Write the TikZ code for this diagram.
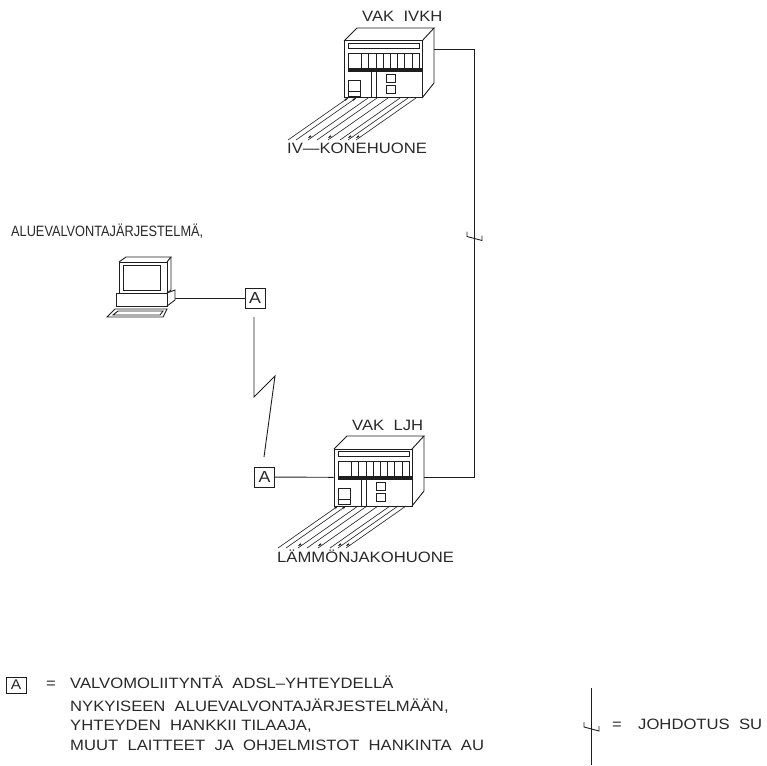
\documentclass[tikz,border=0pt]{standalone}
\usepackage{fontspec}
\setmainfont[FakeStretch=1.11]{Liberation Sans}
\newfontfamily\kapeafont[FakeStretch=0.85]{Liberation Sans}
\usepackage{xcolor}
\usetikzlibrary{arrows.meta, positioning, calc}
\definecolor{cadline}{RGB}{30,30,30}
\definecolor{cadtext}{RGB}{40,40,40}
\tikzset{
  cadlabel/.style={inner sep=0pt, anchor=base west, text=cadtext, font=\fontsize{15}{15}\selectfont},
  liitos/.style={rectangle, draw=cadline, fill=white, minimum width=20pt, minimum height=20pt,
                 inner sep=0pt, text=cadtext, font=\fontsize{16}{16}\selectfont},
  johto/.style={draw=cadline, line width=0.9pt},
  kaapeli/.style={draw=cadline, line width=0.6pt},
  vakbox/.pic={
    \node[draw=cadline, line width=1pt, minimum width=78pt, minimum height=57pt, inner sep=0pt] (-front) at (39,28.5) {};
    \coordinate (-sideup) at (90,8);
    \coordinate (-sidemid) at (90,28);
    \draw[johto] (0,0) -- (13,-13) -- (90,-13) -- (78,0);
    \draw[johto] (90,-13) -- (90,42) -- (78,57);
    \draw[johto] (4.5,2.5) rectangle (75,7.5);
    \draw[johto] (4.5,12) rectangle (75,27);
    \foreach \xa in {17.5,24.5,32,39,46,53,60,68}
      \draw[johto] (\xa,12) -- (\xa,27);
    \draw[johto, fill=cadline] (4.5,27) rectangle (77,30);
    \draw[johto] (27,30) -- (27,57) (32,30) -- (32,57);
    \draw[johto] (4.5,39) rectangle (16,50.7);
    \draw[johto] (4.5,50.7) rectangle (16,55.7);
    \draw[johto] (42,33.3) rectangle (51,41.7);
    \draw[johto] (42,44.7) rectangle (51,52.3);
    %% cables
    \foreach \xa/\xb in {4/-56,12/-48,24/-36,33/-27,44/-16,56/-4,64/4,72/12}
      \draw[kaapeli] (\xa,57) -- (\xb,99);
    \foreach \xb in {-36,-16,4,12}
      \draw[kaapeli, {Stealth[length=4pt,width=2.5pt]}-] (\xb,97) -- ++(3,-2);
    \foreach \xa in {4,12}
      \draw[kaapeli, -{Stealth[length=4pt,width=2.5pt]}] (\xa-3,59) -- (\xa,57);
  },
  katko/.pic={
    \draw[johto] (-7,-4) -- (-7,1) -- (8,5) -- (8,0);
  }
}

\begin{document}
\begin{tikzpicture}[x=1pt,y=-1pt]
  \useasboundingbox (0,0) rectangle (767,765);

  %% ── Devices ─────────────────────────────────────────────────────────────
  \pic (ivkh) at (344,41) {vakbox};
  \pic (ljh) at (334,449) {vakbox};

  \node[cadlabel] (ivkhname) at (362,22) {VAK\ \ IVKH};
  \node[cadlabel] (ivkhroom) at (287,153.5) {IV---KONEHUONE};
  \node[cadlabel] (ljhname) at (352,430.5) {VAK\ \ LJH};
  \node[cadlabel] (ljhroom) at (277,562.5) {LÄMMÖNJAKOHUONE};

  %% ── Workstation ─────────────────────────────────────────────────────────
  \node[cadlabel] (aluename) at (11,236) {\kapeafont ALUEVALVONTAJÄRJESTELMÄ,};
  \node[draw=cadline, line width=1pt, minimum width=48pt, minimum height=31pt, inner sep=0pt] (monitor) at (143,277.5) {};
  \node[draw=cadline, line width=1pt, minimum width=37pt, minimum height=25pt, inner sep=0pt] (screen) at (141.5,277.5) {};
  \draw[johto] (119,262) -- (126,257) -- (171,257) -- (167,262);
  \draw[johto] (171,257) -- (171,290) -- (167,293);
  \node[draw=cadline, line width=1pt, minimum width=51pt, minimum height=13pt, inner sep=0pt] (pcbase) at (141.5,299.5) {};
  \draw[johto] (167,306) -- (175,300) -- (175,290) -- (167,293);
  \coordinate (pcport) at (175,298);
  \draw[johto] (107,317) -- (115,309) -- (167,309) -- (163,317) -- cycle;
  \draw[johto] (113,315) -- (118,311) -- (163,311) -- (160,315) -- cycle;

  %% ── Connections ─────────────────────────────────────────────────────────
  \node[liitos] (liitosyla) at (255,298) {A};
  \node[liitos] (liitosala) at (264.5,477) {A};

  \draw[johto] (pcport) -- (liitosyla);
  \draw[johto] (liitosala) -- (ljh-front);

  \coordinate (zigtop) at (254,317);
  \coordinate (zigloop) at (254,397);
  \coordinate (zigtip) at (275,376);
  \coordinate (zigend) at (264,457);
  \draw[johto] (zigtop) -- (zigloop) -- (zigtip) -- (zigend);

  \coordinate (bendup) at (474,49);
  \coordinate (benddown) at (474,477);
  \draw[johto] (ivkh-sideup) -- (bendup) -- (benddown) -- (ljh-sidemid);
  \pic at (474,235.5) {katko};

  %% ── Legend ──────────────────────────────────────────────────────────────
  \node[liitos, minimum height=16pt, font=\fontsize{14}{14}\selectfont] (liitosmerkki) at (16,685) {A};
  \node[cadlabel] (selite) at (46,688.5) {=};
  \node[cadlabel] (selite1) at (70,688.5) {VALVOMOLIITYNTÄ\ \ ADSL--YHTEYDELLÄ};
  \node[cadlabel] (selite2) at (70,711) {NYKYISEEN\ \ ALUEVALVONTAJÄRJESTELMÄÄN,};
  \node[cadlabel] (selite3) at (70,730.5) {YHTEYDEN\ \ HANKKII TILAAJA,};
  \node[cadlabel] (selite4) at (70,750.5) {MUUT\ \ LAITTEET\ \ JA\ \ OHJELMISTOT\ \ HANKINTA\ \ AU};

  \coordinate (katkoup) at (591,688);
  \coordinate (katkodown) at (591,765);
  \draw[johto] (katkoup) -- (katkodown);
  \pic at (591,726) {katko};
  \node[cadlabel] (katkomerkki) at (612,729.5) {=};
  \node[cadlabel] (katkoselite) at (638,729.5) {JOHDOTUS\ \ SU};

\end{tikzpicture}
\end{document}
